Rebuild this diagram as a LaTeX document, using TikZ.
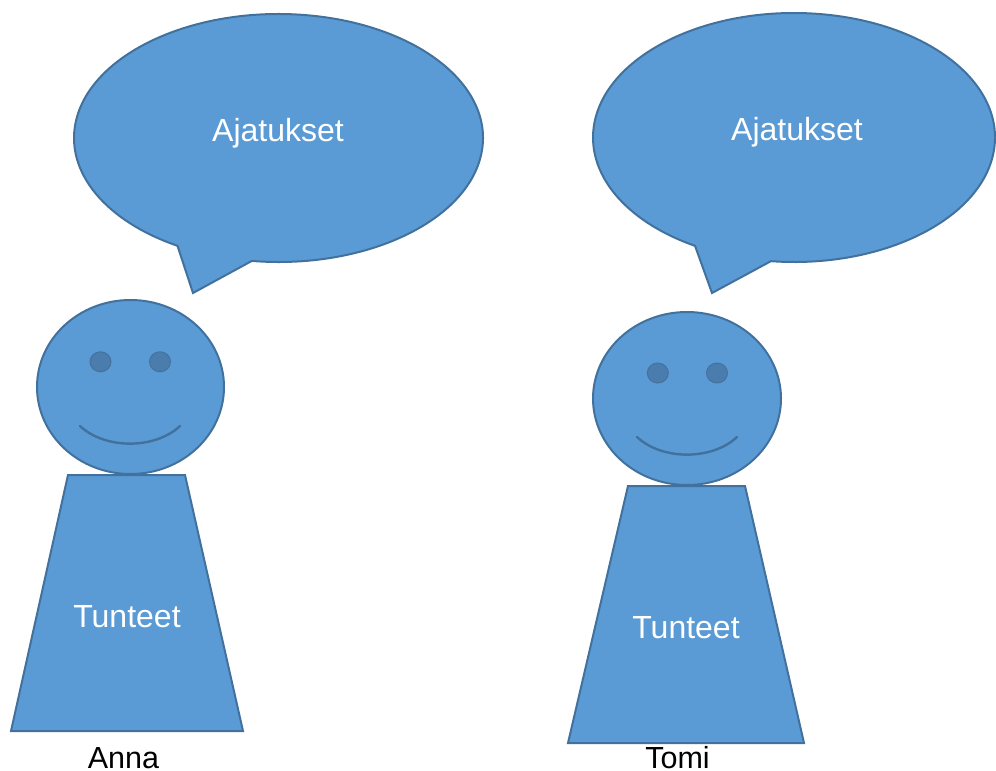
\documentclass[tikz,border=0pt]{standalone}
\usepackage{fontspec}
\setmainfont{Liberation Sans}
\definecolor{bodyfill}{HTML}{5B9BD5}
\definecolor{bodyline}{HTML}{41719C}
\definecolor{eyefill}{HTML}{4A7DAE}
\definecolor{eyeline}{HTML}{44729D}
\tikzset{
  figure/.style={fill=bodyfill, draw=bodyline, line width=2pt, line join=miter},
  eyeball/.style={fill=eyefill, draw=eyeline, line width=1pt},
  smile/.style={draw=bodyline, line width=2.4pt, line cap=round},
  intext/.style={text=white, font=\fontsize{32}{38}\selectfont, inner sep=0pt, anchor=base},
  nametext/.style={text=black, font=\fontsize{30.5}{36}\selectfont, inner sep=0pt, anchor=base}
}
\begin{document}
\begin{tikzpicture}[x=1pt,y=-1pt]
\useasboundingbox (0,0) rectangle (996,771);

% ---- Anna ----
% thought bubble
\path[figure] (278.5,138) ++(97.5:204.5 and 124)
  arc[start angle=97.5, end angle=-240.4, x radius=204.5, y radius=124]
  -- (193,293) -- cycle;
\node[intext] (annaThought) at (278,141) {Ajatukset};
% body
\path[figure] (68,475) -- (185,475) -- (243,731) -- (11,731) -- cycle;
\node[intext] (annaFeel) at (127,627.5) {Tunteet};
% head
\path[figure] (130.5,387) ellipse[x radius=93.5, y radius=87];
\path[eyeball] (100.5,361.8) ellipse[x radius=10.5, y radius=10];
\path[eyeball] (160,361.8) ellipse[x radius=10.5, y radius=10];
\draw[smile] (80,426) .. controls (105,449.5) and (155,449.5) .. (180,426);
\node[nametext] (anna) at (123.5,768) {Anna};

% ---- Tomi ----
% thought bubble
\path[figure] (794,137.5) ++(96.6:201 and 124.5)
  arc[start angle=96.6, end angle=-240.5, x radius=201, y radius=124.5]
  -- (712,293) -- cycle;
\node[intext] (tomiThought) at (797,140) {Ajatukset};
% body
\path[figure] (628,486) -- (745,486) -- (804,743) -- (568,743) -- cycle;
\node[intext] (tomiFeel) at (686,638) {Tunteet};
% head
\path[figure] (687,398.5) ellipse[x radius=94, y radius=86.5];
\path[eyeball] (657.8,373) ellipse[x radius=10.5, y radius=10];
\path[eyeball] (717,373) ellipse[x radius=10.5, y radius=10];
\draw[smile] (637,437) .. controls (662,460.5) and (712,460.5) .. (737,437);
\node[nametext] (tomi) at (677.5,768) {Tomi};
\end{tikzpicture}
\end{document}
